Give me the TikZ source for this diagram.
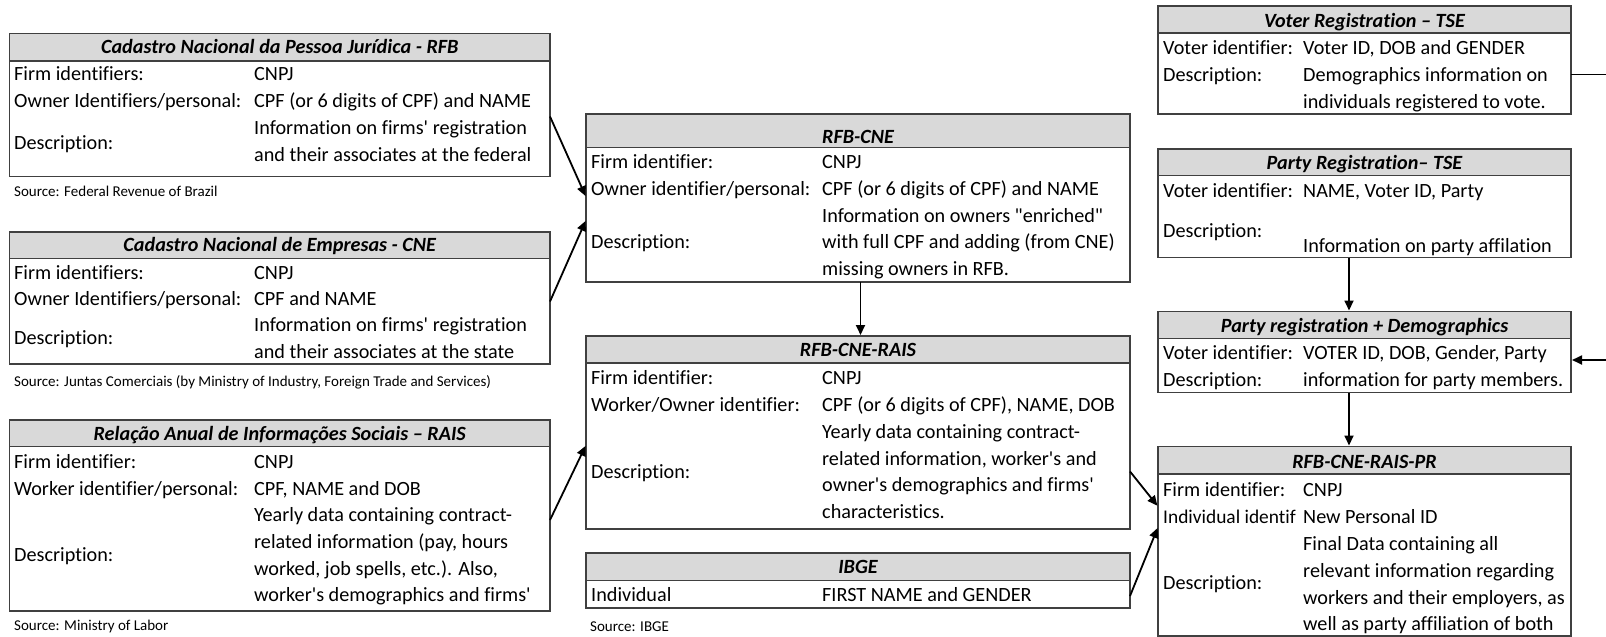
\documentclass[tikz,border=0pt]{standalone}
\usepackage{fontspec}
\newfontfamily\calfont{Carlito}[Ligatures=CommonOff]
\usetikzlibrary{arrows.meta}
\definecolor{hdrgray}{HTML}{D9D9D9}
\definecolor{edge}{HTML}{404040}
\newcommand\mktx[4]{\node[txt] (#1) at (#2,#3+6.7) {#4};}
\newcommand\mkttl[4]{\node[ttl] (#1) at (#2,#3+6.7) {#4};}
\begin{document}
\begin{tikzpicture}[x=1pt,y=-1pt,
  box/.style={draw=edge, line width=1.3pt, anchor=north west, inner sep=0pt, outer sep=0pt},
  hdr/.style={draw=edge, line width=1.3pt, fill=hdrgray},
  ttl/.style={font=\calfont\fontsize{20.2}{22}\selectfont\bfseries\itshape, inner sep=0pt, anchor=base},
  txt/.style={font=\calfont\fontsize{20.2}{22}\selectfont, inner sep=0pt, anchor=base west},
  src/.style={font=\calfont\fontsize{15}{17}\selectfont, inner sep=0pt, anchor=base west},
  arr/.style={-{Triangle[length=10pt,width=9pt]}, line width=1.8pt, shorten >=1pt},
]
\clip (0,0) rectangle (1606,637);
\fill[white] (0,0) rectangle (1606,637);

% ---------- Left column ----------
\node[box, minimum width=540.5pt, minimum height=143pt] (rfb) at (9.5,33.5) {};
\draw[hdr] (rfb.north west) rectangle ([yshift=-27.5pt]rfb.north east);
\mkttl{rfbT}{279.75}{47}{Cadastro Nacional da Pessoa Jurídica - RFB}
\mktx{rfbL1}{14}{74}{Firm identifiers:}
\mktx{rfbV1}{254}{74}{CNPJ}
\mktx{rfbL2}{14}{101}{Owner Identifiers/personal:}
\mktx{rfbV2}{254}{101}{CPF (or 6 digits of CPF) and NAME}
\mktx{rfbV3}{254}{128}{Information on firms' registration}
\mktx{rfbV4}{254}{154.5}{and their associates at the federal}
\mktx{rfbL3}{14}{143}{Description:}
\node[src] (rfbS) at (14,191+5) {Source: Federal Revenue of Brazil};

\node[box, minimum width=540.5pt, minimum height=132pt] (cne) at (9.5,232) {};
\draw[hdr] (cne.north west) rectangle ([yshift=-26.5pt]cne.north east);
\mkttl{cneT}{279.75}{245}{Cadastro Nacional de Empresas - CNE}
\mktx{cneL1}{14}{272.5}{Firm identifiers:}
\mktx{cneV1}{254}{272.5}{CNPJ}
\mktx{cneL2}{14}{299}{Owner Identifiers/personal:}
\mktx{cneV2}{254}{299}{CPF and NAME}
\mktx{cneV3}{254}{325}{Information on firms' registration}
\mktx{cneV4}{254}{351.5}{and their associates at the state}
\mktx{cneL3}{14}{338}{Description:}
\node[src] (cneS) at (14,381+5) {Source: Juntas Comerciais (by Ministry of Industry, Foreign Trade and Services)};

\node[box, minimum width=540.5pt, minimum height=191pt] (rais) at (9.5,420) {};
\draw[hdr] (rais.north west) rectangle ([yshift=-26.5pt]rais.north east);
\mkttl{raisT}{279.75}{433.5}{Relação Anual de Informações Sociais – RAIS}
\mktx{raisL1}{14}{461.5}{Firm identifier:}
\mktx{raisV1}{254}{461.5}{CNPJ}
\mktx{raisL2}{14}{488.5}{Worker identifier/personal:}
\mktx{raisV2}{254}{488.5}{CPF, NAME and DOB}
\mktx{raisV3}{254}{515}{Yearly data containing contract-}
\mktx{raisV4}{254}{542}{related information (pay, hours}
\mktx{raisV5}{254}{568.5}{worked, job spells, etc.). Also,}
\mktx{raisV6}{254}{595}{worker's demographics and firms'}
\mktx{raisL3}{14}{555}{Description:}
\node[src] (raisS) at (14,625+5) {Source: Ministry of Labor};

% ---------- Middle column ----------
\node[box, minimum width=544pt, minimum height=168pt] (rc) at (586,114) {};
\draw[hdr] (rc.north west) rectangle ([yshift=-33.5pt]rc.north east);
\mkttl{rcT}{858}{137}{RFB-CNE}
\mktx{rcL1}{591}{162}{Firm identifier:}
\mktx{rcV1}{822}{162}{CNPJ}
\mktx{rcL2}{591}{189}{Owner identifier/personal:}
\mktx{rcV2}{822}{189}{CPF (or 6 digits of CPF) and NAME}
\mktx{rcV3}{822}{216}{Information on owners "enriched"}
\mktx{rcV4}{822}{242}{with full CPF and adding (from CNE)}
\mktx{rcV5}{822}{268.5}{missing owners in RFB.}
\mktx{rcL3}{591}{242}{Description:}

\node[box, minimum width=544pt, minimum height=193pt] (rcr) at (586,336) {};
\draw[hdr] (rcr.north west) rectangle ([yshift=-27pt]rcr.north east);
\mkttl{rcrT}{858}{350}{RFB-CNE-RAIS}
\mktx{rcrL1}{591}{378}{Firm identifier:}
\mktx{rcrV1}{822}{378}{CNPJ}
\mktx{rcrL2}{591}{405}{Worker/Owner identifier:}
\mktx{rcrV2}{822}{405}{CPF (or 6 digits of CPF), NAME, DOB}
\mktx{rcrV3}{822}{432}{Yearly data containing contract-}
\mktx{rcrV4}{822}{458.5}{related information, worker's and}
\mktx{rcrV5}{822}{485}{owner's demographics and firms'}
\mktx{rcrV6}{822}{512}{characteristics.}
\mktx{rcrL3}{591}{472}{Description:}

\node[box, minimum width=544pt, minimum height=55pt] (ibge) at (586,553) {};
\draw[hdr] (ibge.north west) rectangle ([yshift=-27.5pt]ibge.north east);
\mkttl{ibgeT}{858}{567}{IBGE}
\mktx{ibgeL1}{591}{594.5}{Individual}
\mktx{ibgeV1}{822}{594.5}{FIRST NAME and GENDER}
\node[src] (ibgeS) at (590,626+5) {Source: IBGE};

% ---------- Right column ----------
\node[box, minimum width=413pt, minimum height=108pt] (vot) at (1158,6) {};
\draw[hdr] (vot.north west) rectangle ([yshift=-27pt]vot.north east);
\mkttl{votT}{1364.5}{20.5}{Voter Registration – TSE}
\mktx{votL1}{1163}{47.5}{Voter identifier:}
\mktx{votV1}{1303}{47.5}{Voter ID, DOB and GENDER}
\mktx{votL2}{1163}{74.5}{Description:}
\mktx{votV2}{1303}{74.5}{Demographics information on}
\mktx{votV3}{1303}{101.5}{individuals registered to vote.}

\node[box, minimum width=413pt, minimum height=108.5pt] (preg) at (1158,149) {};
\draw[hdr] (preg.north west) rectangle ([yshift=-26.5pt]preg.north east);
\mkttl{pregT}{1364.5}{163}{Party Registration– TSE}
\mktx{pregL1}{1163}{190.5}{Voter identifier:}
\mktx{pregV1}{1303}{190.5}{NAME, Voter ID, Party}
\mktx{pregL2}{1163}{230.5}{Description:}
\mktx{pregV2}{1303}{245.5}{Information on party affilation}

\node[box, minimum width=413pt, minimum height=81pt] (pdem) at (1158,311.5) {};
\draw[hdr] (pdem.north west) rectangle ([yshift=-27pt]pdem.north east);
\mkttl{pdemT}{1364.5}{326}{Party registration + Demographics}
\mktx{pdemL1}{1163}{352.5}{Voter identifier:}
\mktx{pdemV1}{1303}{352.5}{VOTER ID, DOB, Gender, Party}
\mktx{pdemL2}{1163}{380}{Description:}
\mktx{pdemV2}{1303}{380}{information for party members.}

\node[box, minimum width=413pt, minimum height=189.5pt] (pr) at (1158,446.5) {};
\draw[hdr] (pr.north west) rectangle ([yshift=-27.5pt]pr.north east);
\mkttl{prT}{1364.5}{461.5}{RFB-CNE-RAIS-PR}
\mktx{prL1}{1163}{490}{Firm identifier:}
\mktx{prV1}{1303}{490}{CNPJ}
\node[txt, font=\calfont\fontsize{19.4}{22}\selectfont] (prL2) at (1163,517+6.7) {Individual identif};
\mktx{prV2}{1303}{517}{New Personal ID}
\mktx{prV3}{1303}{543.5}{Final Data containing all}
\mktx{prV4}{1303}{570.5}{relevant information regarding}
\mktx{prV5}{1303}{597.5}{workers and their employers, as}
\mktx{prV6}{1303}{624}{well as party affiliation of both}
\mktx{prL3}{1163}{583}{Description:}

% ---------- Connectors ----------
\draw[arr] ([yshift=-83pt]rfb.north east) -- ([yshift=-83pt]rc.north west);
\draw[arr] ([yshift=-69.5pt]cne.north east) -- ([yshift=-106pt]rc.north west);
\draw[arr] ([yshift=-100pt]rais.north east) -- ([yshift=-109pt]rcr.north west);
\draw[arr] ([xshift=2.5pt]rc.south) -- ([xshift=2.5pt]rcr.north);
\draw[arr] ([yshift=-135.5pt]rcr.north east) -- ([yshift=-60pt]pr.north west);
\draw[arr] ([yshift=-43pt]ibge.north east) -- ([yshift=-80.5pt]pr.north west);
\draw[arr] ([xshift=-15.5pt]preg.south) -- ([xshift=-15.5pt]pdem.north);
\draw[arr] ([xshift=-15.5pt]pdem.south) -- ([xshift=-15.5pt]pr.north);
\coordinate (offA) at (1625,74.5);
\coordinate (offB) at (1625,360);
\draw[arr] ([yshift=-68.5pt]vot.north east) -- (offA) -- (offB) -- ([yshift=-48.5pt]pdem.north east);
\end{tikzpicture}
\end{document}
